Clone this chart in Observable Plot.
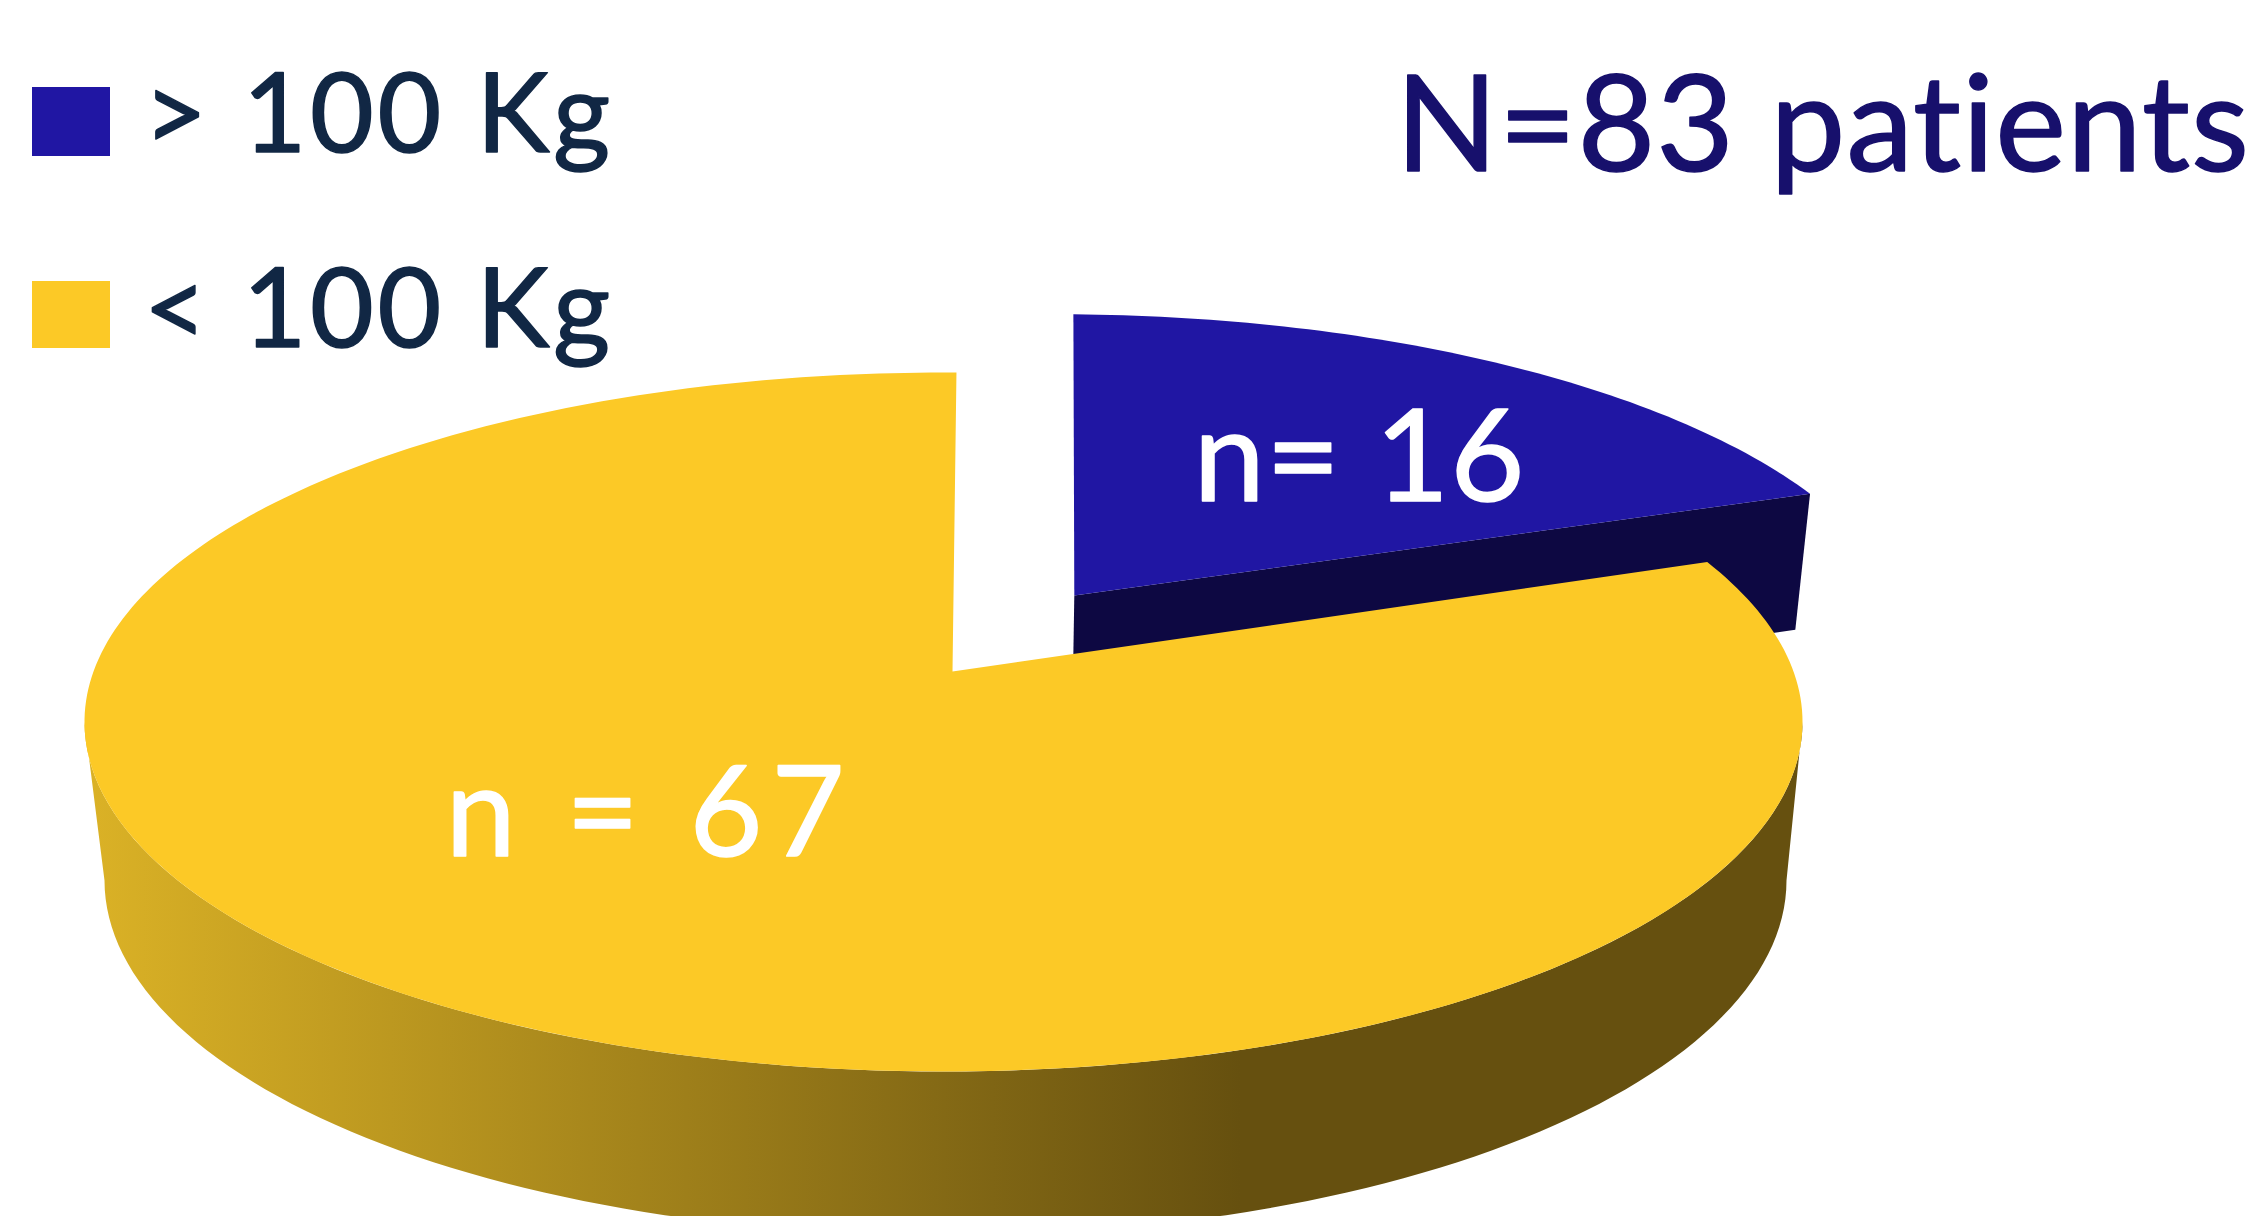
<!DOCTYPE html>
<html>
<head>
<meta charset="utf-8">
<script src="https://cdn.jsdelivr.net/npm/d3@7"></script>
<script src="https://cdn.jsdelivr.net/npm/@observablehq/plot@0.6"></script>
<style>
html,body{margin:0;padding:0;background:#fff;}
svg{display:block;}
text{font-variant-ligatures:none;}
.ls-legend text{letter-spacing:3.6px;}
.ls-title text{letter-spacing:1px;}
.ls-a text{letter-spacing:1px;}
.ls-b text{letter-spacing:9px;}
</style>
</head>
<body>
<div id="chart"></div>
<script>
// ---- chart values ----
const categories = ["> 100 Kg", "< 100 Kg"];
const patients = [16, 67];
const sliceLabels = ["n= 16", "n = 67"];
const title = "N=83 patients";

// ---- styling ----
const topColors = ["#2016a3", "#fcc926"];
const cutFaceColor = "#0d0842";
const legendInk = "#112744";
const titleInk = "#17106c";
const gradientStops = [[0, "#dbb226"], [1, "#66500f"]];
const font = "Lato";

// ---- layout: perspective view of the unit pie disc ----
const W = 2261, H = 1216;
const view = {x0: 943, y0: 671, c: 850, b: -245.2, k: 0.1445};
const project = (X, Y) => {
  const w = 1 + view.k * Y;
  return {x: view.x0 + view.c * X / w, y: (view.y0 + view.b * Y) / w};
};
const total = d3.sum(patients);
const sweep = patients.map(v => v / total * 2 * Math.PI);
const rad = d => d * Math.PI / 180;

// wedge outline: pie apex, then rim from a0 to a1 (clockwise from 12 o'clock)
function wedge(a0, a1, apexX, apexY, dX, dY) {
  const n = Math.max(12, Math.ceil((a1 - a0) / rad(1)));
  const pts = [project(apexX + dX, apexY + dY)];
  for (let i = 0; i <= n; i++) {
    const a = a0 + (a1 - a0) * i / n;
    pts.push(project(Math.sin(a) + dX, Math.cos(a) + dY));
  }
  return pts;
}

const blueStart = rad(1.2);
const blueTop = wedge(blueStart, blueStart + sweep[0], 0, 0, 0.159, 0.2295);
const yellowStart = rad(1) + sweep[0];
const yellowTop = wedge(yellowStart, yellowStart + sweep[1], 0.0106, 0, 0, 0);

// navy cut face of the pulled-out slice
const apexB = blueTop[0], rimB = blueTop[blueTop.length - 1];
const lower = p => ({x: view.x0 + (p.x - view.x0) * 0.983, y: p.y + 136});
const cutFace = [apexB, rimB, lower(rimB), lower(apexB)];

// side wall of the big slice: front half of the top rim + front half of the base ellipse
const topEll = {cx: 943, cy: 721.5, rx: 859, ry: 349.5};
const baseEll = {cx: 945, cy: 880, rx: 841, ry: 355};
const arc = (e, from, to) => d3.range(0, 121).map(i => {
  const t = from + (to - from) * i / 120;
  return {x: e.cx + e.rx * Math.cos(t), y: e.cy + e.ry * Math.sin(t)};
});
const wall = [...arc(topEll, Math.PI, 0), ...arc(baseEll, 0, Math.PI)];

// gradient for the wall
const gradient = () => {
  const ns = "http://www.w3.org/2000/svg";
  const defs = document.createElementNS(ns, "defs");
  const g = document.createElementNS(ns, "linearGradient");
  g.setAttribute("id", "wallShade");
  g.setAttribute("gradientUnits", "userSpaceOnUse");
  g.setAttribute("x1", 84); g.setAttribute("x2", 1240);
  g.setAttribute("y1", 0); g.setAttribute("y2", 0);
  for (const [o, c] of gradientStops) {
    const s = document.createElementNS(ns, "stop");
    s.setAttribute("offset", o); s.setAttribute("stop-color", c);
    g.appendChild(s);
  }
  defs.appendChild(g);
  return defs;
};

const poly = (pts, fill) => Plot.line(pts, {x: "x", y: "y", fill, stroke: "none"});

// legend and label placement
const legendBoxes = categories.map((c, i) => ({
  c, x1: 32, x2: 110, y1: [87, 281][i], y2: [156, 348][i], fill: topColors[i]
}));
const legendText = categories.map((c, i) => ({c, x: 143, y: [151, 346][i]}));
const labelSpots = [{x: 1193, y: 500, size: 128, cls: "ls-a"}, {x: 445, y: 855, size: 126, cls: "ls-b"}];

const chart = Plot.plot({
  width: W, height: H,
  margin: 0,
  style: {background: "#fff", fontFamily: font},
  x: {domain: [0, W], range: [0, W], axis: null},
  y: {domain: [0, H], range: [0, H], axis: null},
  marks: [
    gradient,
    poly(wall, "url(#wallShade)"),
    poly(cutFace, cutFaceColor),
    poly(blueTop, topColors[0]),
    poly(yellowTop, topColors[1]),
    Plot.rect(legendBoxes, {x1: "x1", x2: "x2", y1: "y1", y2: "y2", fill: "fill"}),
    Plot.text(legendText, {x: "x", y: "y", text: "c", textAnchor: "start", lineAnchor: "bottom",
      fontSize: 110, fill: legendInk, stroke: legendInk, strokeWidth: 1.5, fontFamily: font, className: "ls-legend"}),
    Plot.text([title], {x: () => 1395, y: () => 170, text: d => d, textAnchor: "start", lineAnchor: "bottom",
      fontSize: 134, fill: titleInk, stroke: titleInk, strokeWidth: 1.5, fontFamily: font, className: "ls-title"}),
    ...sliceLabels.map((t, i) => Plot.text([t], {x: () => labelSpots[i].x, y: () => labelSpots[i].y, text: d => d,
      textAnchor: "start", lineAnchor: "bottom", fontSize: labelSpots[i].size, fill: "#fff", stroke: "#fff",
      strokeWidth: 1.5, fontFamily: font, className: labelSpots[i].cls}))
  ]
});
document.getElementById("chart").appendChild(chart);
</script>
</body>
</html>
